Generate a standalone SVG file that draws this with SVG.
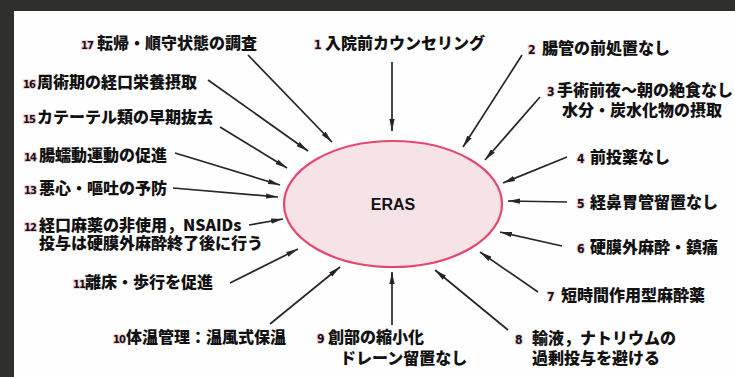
<svg xmlns="http://www.w3.org/2000/svg" width="735" height="377" viewBox="0 0 735 377">
<style>
.t{font-family:"Noto Sans CJK JP","Noto Sans CJK SC",sans-serif;font-weight:900;font-size:16px;fill:#111}
.n{font-family:"DejaVu Sans Condensed","Liberation Sans",sans-serif;font-weight:700;font-size:12px;fill:#111;stroke:#f6c9d5;stroke-width:2;paint-order:stroke}
.m{font-size:11px;letter-spacing:-1px}
.c line{stroke:#262626;stroke-width:1.7;marker-end:url(#ah)}
</style>
<defs>
<marker id="ah" viewBox="0 0 12 6" refX="12" refY="3" markerWidth="12" markerHeight="6" markerUnits="userSpaceOnUse" orient="auto">
<path d="M0,0.4 L12,3 L0,5.6 Z" fill="#262626"/>
</marker>
</defs>
<rect x="0" y="0" width="735" height="377" fill="#fefefe"/>
<rect x="0" y="0" width="735" height="11" fill="#2f2f2c"/>
<rect x="0" y="0" width="14" height="377" fill="#2f2f2c"/>

<g class="c" id="connectors">
<line x1="392" y1="62" x2="392" y2="131"/>
<line x1="522" y1="55" x2="463" y2="147"/>
<line x1="540" y1="97" x2="485" y2="160"/>
<line x1="567" y1="157" x2="503" y2="183"/>
<line x1="567" y1="202" x2="508" y2="201"/>
<line x1="562" y1="246" x2="500" y2="232"/>
<line x1="538" y1="292" x2="480" y2="252"/>
<line x1="508" y1="330" x2="435" y2="270"/>
<line x1="392" y1="325" x2="392" y2="272"/>
<line x1="270" y1="324" x2="340" y2="267"/>
<line x1="230" y1="283" x2="298" y2="249"/>
<line x1="249" y1="225" x2="283" y2="219"/>
<line x1="173" y1="188" x2="278" y2="197"/>
<line x1="175" y1="153" x2="280" y2="185"/>
<line x1="220" y1="127" x2="287" y2="168"/>
<line x1="208" y1="80" x2="308" y2="151"/>
<line x1="248" y1="55" x2="332" y2="142"/>
</g>

<g id="eras">
<ellipse cx="393" cy="204" rx="109" ry="63" fill="#f6e3e8" stroke="#e5486f" stroke-width="2.2"/>
<text x="393" y="210" text-anchor="middle" font-family="Liberation Sans, Arial, sans-serif" font-weight="700" font-size="16" fill="#111">ERAS</text>
</g>

<g id="item1"><text class="t" y="49"><tspan class="n" x="314">1</tspan><tspan x="325">入院前カウンセリング</tspan></text></g>
<g id="item2"><text class="t" y="54"><tspan class="n" x="528">2</tspan><tspan x="542">腸管の前処置なし</tspan></text></g>
<g id="item3"><text class="t" y="96"><tspan class="n" x="547">3</tspan><tspan x="557">手術前夜〜朝の絶食なし</tspan><tspan x="562" y="116">水分・炭水化物の摂取</tspan></text></g>
<g id="item4"><text class="t" y="163"><tspan class="n" x="577">4</tspan><tspan x="590">前投薬なし</tspan></text></g>
<g id="item5"><text class="t" y="208"><tspan class="n" x="577">5</tspan><tspan x="590">経鼻胃管留置なし</tspan></text></g>
<g id="item6"><text class="t" y="253"><tspan class="n" x="577">6</tspan><tspan x="590">硬膜外麻酔・鎮痛</tspan></text></g>
<g id="item7"><text class="t" y="301"><tspan class="n" x="547">7</tspan><tspan x="561">短時間作用型麻酔薬</tspan></text></g>
<g id="item8"><text class="t" y="344"><tspan class="n" x="515">8</tspan><tspan x="532">輸液，ナトリウムの</tspan><tspan x="532" y="364">過剰投与を避ける</tspan></text></g>
<g id="item9"><text class="t" y="343"><tspan class="n" x="317">9</tspan><tspan x="328">創部の縮小化</tspan><tspan x="340" y="364">ドレーン留置なし</tspan></text></g>
<g id="item10"><text class="t" y="343"><tspan class="n m" x="113">10</tspan><tspan x="126">体温管理：温風式保温</tspan></text></g>
<g id="item11"><text class="t" y="288"><tspan class="n m" x="73">11</tspan><tspan x="85">離床・歩行を促進</tspan></text></g>
<g id="item12"><text class="t" y="231"><tspan class="n m" x="24">12</tspan><tspan x="39">経口麻薬の非使用，NSAIDs</tspan><tspan x="39" y="249">投与は硬膜外麻酔終了後に行う</tspan></text></g>
<g id="item13"><text class="t" y="194"><tspan class="n m" x="24">13</tspan><tspan x="39">悪心・嘔吐の予防</tspan></text></g>
<g id="item14"><text class="t" y="161"><tspan class="n m" x="24">14</tspan><tspan x="39">腸蠕動運動の促進</tspan></text></g>
<g id="item15"><text class="t" y="123"><tspan class="n m" x="23">15</tspan><tspan x="37">カテーテル類の早期抜去</tspan></text></g>
<g id="item16"><text class="t" y="88"><tspan class="n m" x="23">16</tspan><tspan x="37">周術期の経口栄養摂取</tspan></text></g>
<g id="item17"><text class="t" y="49"><tspan class="n m" x="81">17</tspan><tspan x="97">転帰・順守状態の調査</tspan></text></g>
</svg>
